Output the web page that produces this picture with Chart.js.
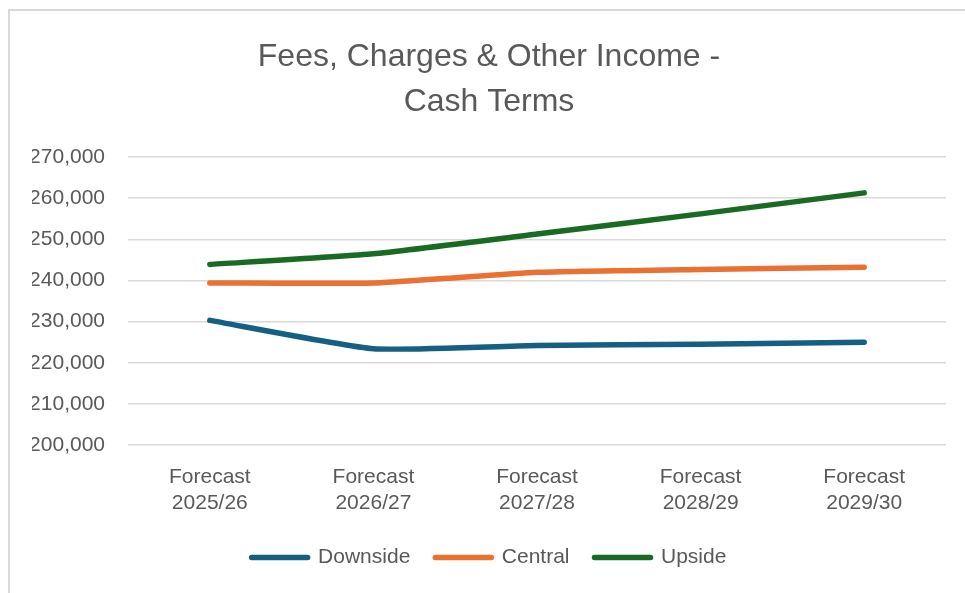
<!DOCTYPE html>
<html>
<head>
<meta charset="utf-8">
<script src="https://cdn.jsdelivr.net/npm/chart.js@4/dist/chart.umd.min.js"></script>
<style>
  html, body { margin: 0; padding: 0; background: #fff; overflow: hidden; }
  #frame {
    position: absolute; left: 8px; top: 9px;
    width: 985px; height: 600px;
    border: 2px solid #d9d9d9;
  }
  #wrap { position: absolute; left: 0; top: 0; width: 965px; height: 582px; }
</style>
</head>
<body>
<div id="frame">
  <div id="wrap"><canvas id="chart"></canvas></div>
</div>
<script>
// Chart data
const categories = [
  ['Forecast', '2025/26'],
  ['Forecast', '2026/27'],
  ['Forecast', '2027/28'],
  ['Forecast', '2028/29'],
  ['Forecast', '2029/30']
];
const downside = [230300, 223400, 224200, 224500, 225000];
const central = [239400, 239400, 242000, 242700, 243200];
const upside = [243900, 246500, 251300, 256200, 261300];
const yTicks = [200000, 210000, 220000, 230000, 240000, 250000, 260000, 270000];

const textColor = '#595959';
const fontFamily = '"Liberation Sans", Arial, sans-serif';

function makeSeries(label, data, color) {
  return {
    label: label,
    data: data,
    borderColor: color,
    backgroundColor: color,
    borderWidth: 5.5,
    borderCapStyle: 'round',
    borderJoinStyle: 'round',
    pointRadius: 0,
    pointStyle: 'line',
    tension: 0.15
  };
}

// Legend entries drawn as short round-capped lines, like the series
function legendLabels(chart) {
  return Chart.defaults.plugins.legend.labels.generateLabels(chart).map(item => ({
    ...item,
    lineCap: 'round',
    lineWidth: 5.5
  }));
}

const ctx = document.getElementById('chart').getContext('2d');
new Chart(ctx, {
  type: 'line',
  data: {
    labels: categories,
    datasets: [
      makeSeries('Downside', downside, '#156082'),
      makeSeries('Central', central, '#E97132'),
      makeSeries('Upside', upside, '#196B24')
    ]
  },
  options: {
    responsive: true,
    maintainAspectRatio: false,
    animation: false,
    layout: { padding: { left: 22, right: 29, top: 0, bottom: 15 } },
    plugins: {
      title: {
        display: true,
        text: ['Fees, Charges & Other Income -', 'Cash Terms'],
        color: textColor,
        font: { family: fontFamily, size: 32, weight: 'normal', lineHeight: 1.4 },
        padding: { top: 24, bottom: 32.5 }
      },
      legend: {
        position: 'bottom',
        labels: {
          color: textColor,
          font: { family: fontFamily, size: 21 },
          usePointStyle: true,
          pointStyleWidth: 56,
          boxHeight: 6,
          padding: 25,
          generateLabels: legendLabels
        }
      },
      tooltip: { enabled: false }
    },
    scales: {
      x: {
        offset: true,
        grid: { display: false, offset: true },
        border: { display: false },
        ticks: {
          color: textColor,
          font: { family: fontFamily, size: 21, lineHeight: 1.2 },
          padding: 12,
          maxRotation: 0
        },
        afterFit: function(scale) { scale.height = 77; }
      },
      y: {
        min: 200000,
        max: 270000,
        afterBuildTicks: function(scale) {
          scale.ticks = yTicks.map(v => ({ value: v }));
        },
        grid: { color: '#d9d9d9', lineWidth: 1.5, drawTicks: false },
        border: { display: false },
        ticks: {
          color: textColor,
          font: { family: fontFamily, size: 21 },
          padding: 23,
          callback: v => v.toLocaleString('en-GB')
        },
        afterFit: function(scale) { scale.width = 96; }
      }
    }
  }
});
</script>
</body>
</html>
